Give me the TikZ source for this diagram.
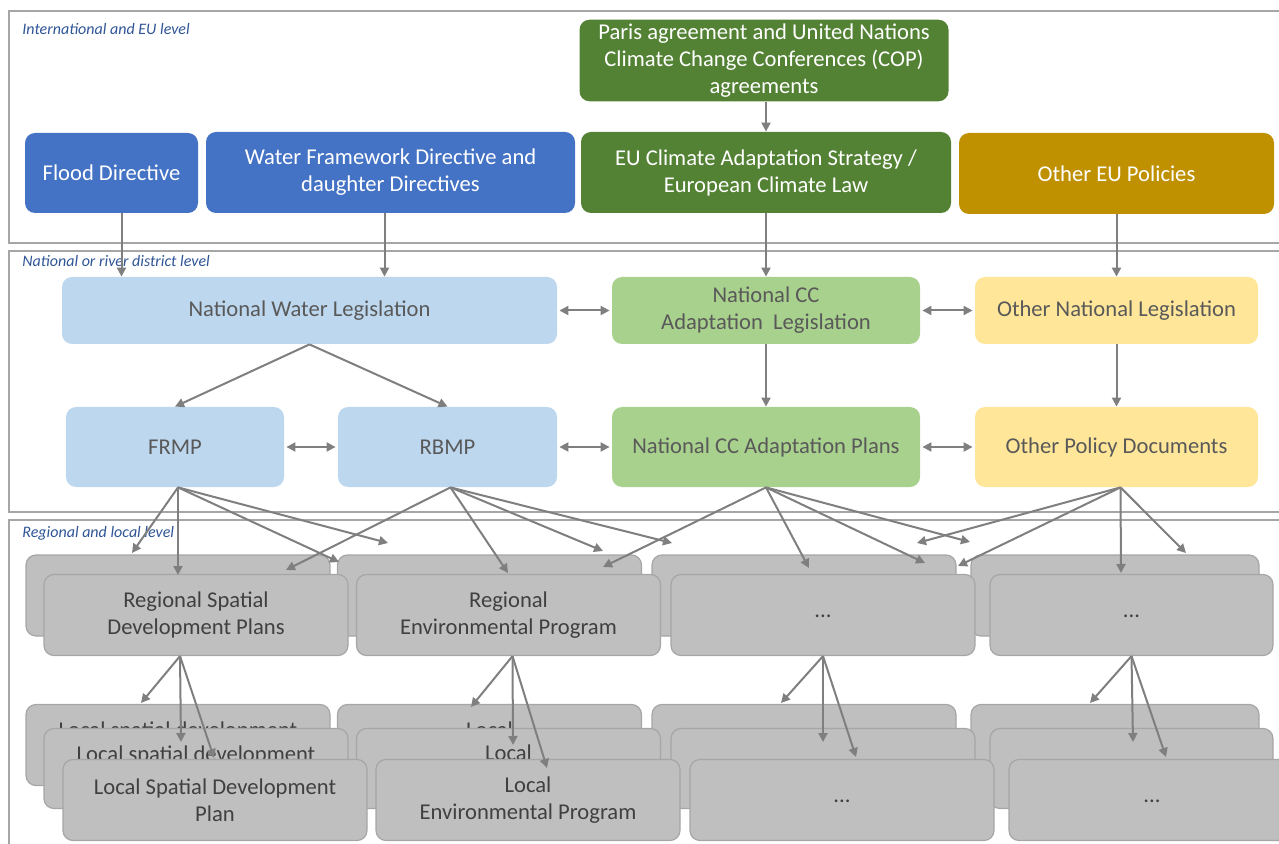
\documentclass[tikz,border=0pt]{standalone}
\usepackage{fontspec}
\setmainfont{Carlito}
\usetikzlibrary{arrows.meta}
\definecolor{eublue}{HTML}{4472C4}
\definecolor{eugreen}{HTML}{548235}
\definecolor{eugold}{HTML}{BF9000}
\definecolor{natblue}{HTML}{BDD7EE}
\definecolor{natgreen}{HTML}{A9D18E}
\definecolor{natyellow}{HTML}{FFE699}
\definecolor{plangray}{HTML}{BFBFBF}
\definecolor{planedge}{HTML}{A6A6A6}
\definecolor{linkgray}{HTML}{7F7F7F}
\definecolor{bandgray}{HTML}{A6A6A6}
\definecolor{levelblue}{HTML}{2F5597}
\definecolor{darktext}{HTML}{595959}
\definecolor{plantext}{HTML}{404040}
\newcommand{\more}{\raisebox{-2.5pt}{...}}
\tikzset{
    common/.style={rounded corners=5pt, align=center, inner sep=2pt, font=\fontsize{11.3}{13.5}\selectfont},
    boxsize/.style 2 args={minimum width=#1*0.5pt, minimum height=#2*0.5pt},
    eu/.style={common, fill=eublue, text=white},
    cop/.style={common, fill=eugreen, text=white},
    other/.style={common, fill=eugold, text=white},
    water/.style={common, fill=natblue, text=darktext},
    climate/.style={common, fill=natgreen, text=darktext},
    policy/.style={common, fill=natyellow, text=darktext},
    plan/.style={common, fill=plangray, draw=planedge, line width=0.6pt, text=plantext},
    band/.style={draw=bandgray, line width=0.8pt},
    level/.style={anchor=west, inner sep=0pt, text=levelblue, font=\fontsize{8}{9.5}\selectfont\itshape},
    link/.style={draw=linkgray, line width=1pt, -{Triangle[length=4.5pt,width=4.5pt]}},
    duo/.style={link, {Triangle[length=4.5pt,width=4.5pt]}-{Triangle[length=4.5pt,width=4.5pt]}, shorten <=1pt, shorten >=1pt},
}

\begin{document}
\begin{tikzpicture}[x=0.5pt, y=-0.5pt]
    \useasboundingbox (0,0) rectangle (1279,844);
    \clip (0,0) rectangle (1279,844);

    \draw[band] (9,11) rectangle (1300,243);
    \draw[band] (9,251) rectangle (1300,512);
    \draw[band] (9,520) rectangle (1300,880);
    \node[level] (lbl-eu) at (22,29) {International and EU level};
    \node[level] (lbl-nat) at (22,261) {National or river district level};
    \node[level] (lbl-reg) at (22,533) {Regional and local level};

    % international and EU level
    \node[cop, boxsize={369}{81}] (paris) at (764,60.5) {Paris agreement and United Nations\\Climate Change Conferences (COP)\\agreements};
    \node[eu, boxsize={173}{80}] (flood) at (111.5,173) {Flood Directive};
    \node[eu, boxsize={369}{81}] (wfd) at (390.5,172.5) {Water Framework Directive and\\daughter Directives};
    \node[cop, boxsize={370}{81}] (euclim) at (766,172.5) {EU Climate Adaptation Strategy /\\European Climate Law};
    \node[other, boxsize={315}{81}] (othereu) at (1116.5,173.5) {Other EU Policies};

    % national level
    \node[water, boxsize={495}{67}] (natwater) at (309.5,310.5) {National Water Legislation};
    \node[climate, boxsize={308}{67}] (natcc) at (766,310.5) {National CC\\Adaptation\ \ Legislation};
    \node[policy, boxsize={283}{67}] (othernat) at (1116.5,310.5) {Other National Legislation};
    \node[water, boxsize={218}{80}] (frmp) at (175,447) {FRMP};
    \node[water, boxsize={219}{80}] (rbmp) at (447.5,447) {RBMP};
    \node[climate, boxsize={308}{80}] (ccplans) at (766,447) {National CC Adaptation Plans};
    \node[policy, boxsize={283}{80}] (otherdoc) at (1116.5,447) {Other Policy Documents};

    % regional level
    \node[plan, boxsize={304}{81}] (reg1-back) at (178,595.5) {};
    \node[plan, boxsize={304}{81}] (reg2-back) at (489.5,595.5) {};
    \node[plan, boxsize={304}{81}] (reg3-back) at (804,595.5) {};
    \node[plan, boxsize={288}{81}] (reg4-back) at (1115,595.5) {};
    \node[plan, boxsize={304}{81}] (reg1-front) at (196,615) {Regional Spatial\\Development Plans};
    \node[plan, boxsize={304}{81}] (reg2-front) at (508.5,615) {Regional\\Environmental Program};
    \node[plan, boxsize={304}{81}] (reg3-front) at (823,615) {\more};
    \node[plan, boxsize={283}{81}] (reg4-front) at (1131.5,615) {\more};

    % local level
    \node[plan, boxsize={304}{81}] (loc1-back) at (178,745) {Local spatial development\\plan};
    \node[plan, boxsize={304}{81}] (loc2-back) at (489.5,745) {Local\\Environmental Program};
    \node[plan, boxsize={304}{81}] (loc3-back) at (804,745) {};
    \node[plan, boxsize={288}{81}] (loc4-back) at (1115,745) {};
    \node[plan, boxsize={304}{80}] (loc1-mid) at (196,768.5) {Local spatial development\\plan};
    \node[plan, boxsize={304}{80}] (loc2-mid) at (508.5,768.5) {Local\\Environmental Program};
    \node[plan, boxsize={304}{80}] (loc3-mid) at (823,768.5) {};
    \node[plan, boxsize={283}{80}] (loc4-mid) at (1131.5,768.5) {};
    \node[plan, boxsize={304}{81}] (loc1-front) at (215,800) {Local Spatial Development\\Plan};
    \node[plan, boxsize={304}{81}] (loc2-front) at (528,800) {Local\\Environmental Program};
    \node[plan, boxsize={304}{81}] (loc3-front) at (842,800) {\more};
    \node[plan, boxsize={286}{81}] (loc4-front) at (1152,800) {\more};

    % fan ends
    \coordinate (f1) at (132,553);  \coordinate (f2) at (178,575);
    \coordinate (f3) at (339,562);  \coordinate (f4) at (388,543);
    \coordinate (r1) at (286,570);  \coordinate (r2) at (508,573);
    \coordinate (r3) at (603,551);  \coordinate (r4) at (672,543);
    \coordinate (n1) at (603,567);  \coordinate (n2) at (809,568);
    \coordinate (n3) at (925,563);  \coordinate (n4) at (970,542);
    \coordinate (o1) at (917,543);  \coordinate (o2) at (958,566);
    \coordinate (o3) at (1121,573); \coordinate (o4) at (1186,553);
    \coordinate (a1) at (141,703);  \coordinate (a2) at (181,742);  \coordinate (a3) at (214,758);
    \coordinate (b1) at (471,707);  \coordinate (b2) at (513,745);  \coordinate (b3) at (547,768);
    \coordinate (c1) at (781,703);  \coordinate (c2) at (823,742);  \coordinate (c3) at (856,757);
    \coordinate (d1) at (1090,703); \coordinate (d2) at (1133,742); \coordinate (d3) at (1166,757);

    \draw[link] (euclim.north |- paris.south) -- (euclim.north);
    \draw[link] ([xshift=5pt]flood.south) -- ([xshift=5pt]flood.south |- natwater.north);
    \draw[link] ([xshift=-3pt]wfd.south) -- ([xshift=-3pt]wfd.south |- natwater.north);
    \draw[link] (euclim) -- (natcc);
    \draw[link] (othereu) -- (othernat);
    \draw[link] (natwater.south) -- (frmp.north);
    \draw[link] (natwater.south) -- (rbmp.north);
    \draw[link] (natcc) -- (ccplans);
    \draw[link] (othernat) -- (otherdoc);

    \draw[duo] (natwater) -- (natcc);
    \draw[duo] (natcc) -- (othernat);
    \draw[duo] (frmp) -- (rbmp);
    \draw[duo] (rbmp) -- (ccplans);
    \draw[duo] (ccplans) -- (otherdoc);

    \foreach \tip in {f1,f2,f3,f4} \draw[link] ([xshift=1.5pt]frmp.south) -- (\tip);
    \foreach \tip in {r1,r2,r3,r4} \draw[link] ([xshift=1.5pt]rbmp.south) -- (\tip);
    \foreach \tip in {n1,n2,n3,n4} \draw[link] (ccplans.south) -- (\tip);
    \foreach \tip in {o1,o2,o3,o4} \draw[link] ([xshift=2pt]otherdoc.south) -- (\tip);
    \foreach \tip in {a1,a2,a3} \draw[link] ([xshift=-8pt]reg1-front.south) -- (\tip);
    \foreach \tip in {b1,b2,b3} \draw[link] ([xshift=2pt]reg2-front.south) -- (\tip);
    \foreach \tip in {c1,c2,c3} \draw[link] (reg3-front.south) -- (\tip);
    \foreach \tip in {d1,d2,d3} \draw[link] (reg4-front.south) -- (\tip);
\end{tikzpicture}
\end{document}
